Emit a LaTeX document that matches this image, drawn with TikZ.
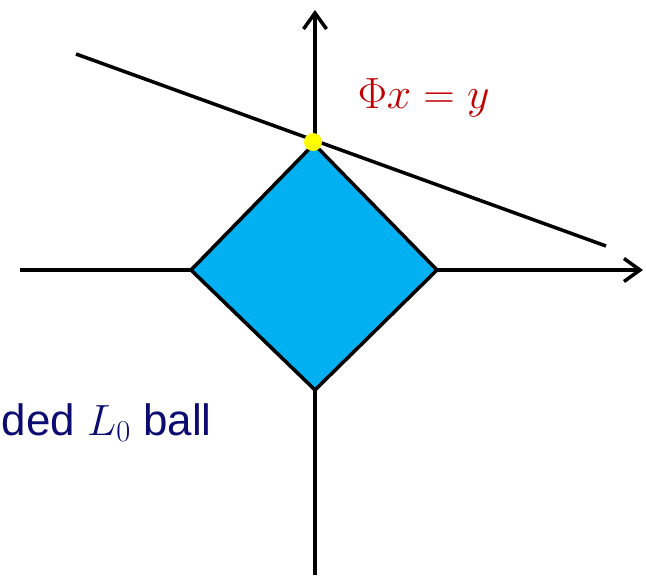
\documentclass[tikz,border=0pt]{standalone}
\usepackage{amsmath, amssymb}
\usepackage{fontspec}
\setmainfont{Liberation Sans}
\usepackage{tikz}
\usetikzlibrary{arrows.meta, positioning, calc}
\definecolor{ballc}{HTML}{00B0F0}
\definecolor{eqc}{HTML}{C00000}
\definecolor{navyc}{HTML}{0B0B70}
\definecolor{dotc}{HTML}{FFFF00}
\tikzset{axis/.style={-{Straight Barb[length=3.2mm, width=4.6mm, line width=2pt]}, line width=2pt}}

\begin{document}
\begin{tikzpicture}[x=0.02cm, y=-0.02cm, line width=2pt,
          font=\fontsize{25}{29}\selectfont]
        \useasboundingbox (0,0) rectangle (646,575);
        \coordinate (o) at (315,270);
        \coordinate (xl) at (20,270);
        \coordinate (xr) at (643,270);
        \coordinate (yb) at (315,575);
        \coordinate (yt) at (315,10);
        \draw[axis] (xl) -- (xr);
        \draw[axis] (yb) -- (yt);
        % the ball
        \coordinate (bt) at (314,144);
        \coordinate (br) at (437,270);
        \coordinate (bb) at (315,390);
        \coordinate (bl) at (191,270);
        \draw[fill=ballc, line join=miter] (bt) -- (br) -- (bb) -- (bl) -- cycle;
        % constraint line
        \coordinate (la) at (76,54);
        \coordinate (lb) at (606,246);
        \draw (la) -- (lb);
        \node[circle, fill=dotc, minimum size=0.36cm, inner sep=0pt] (sol) at (313,142) {};
        \node[eqc, anchor=base west, inner sep=0pt, font=\fontsize{28}{32}\selectfont] (eq) at (356,108) {$\Phi x = y$};
        \node[navyc, anchor=base west, inner sep=0pt] (ball) at (0,435) {ded $L_0$ ball};
      \end{tikzpicture}
\end{document}
